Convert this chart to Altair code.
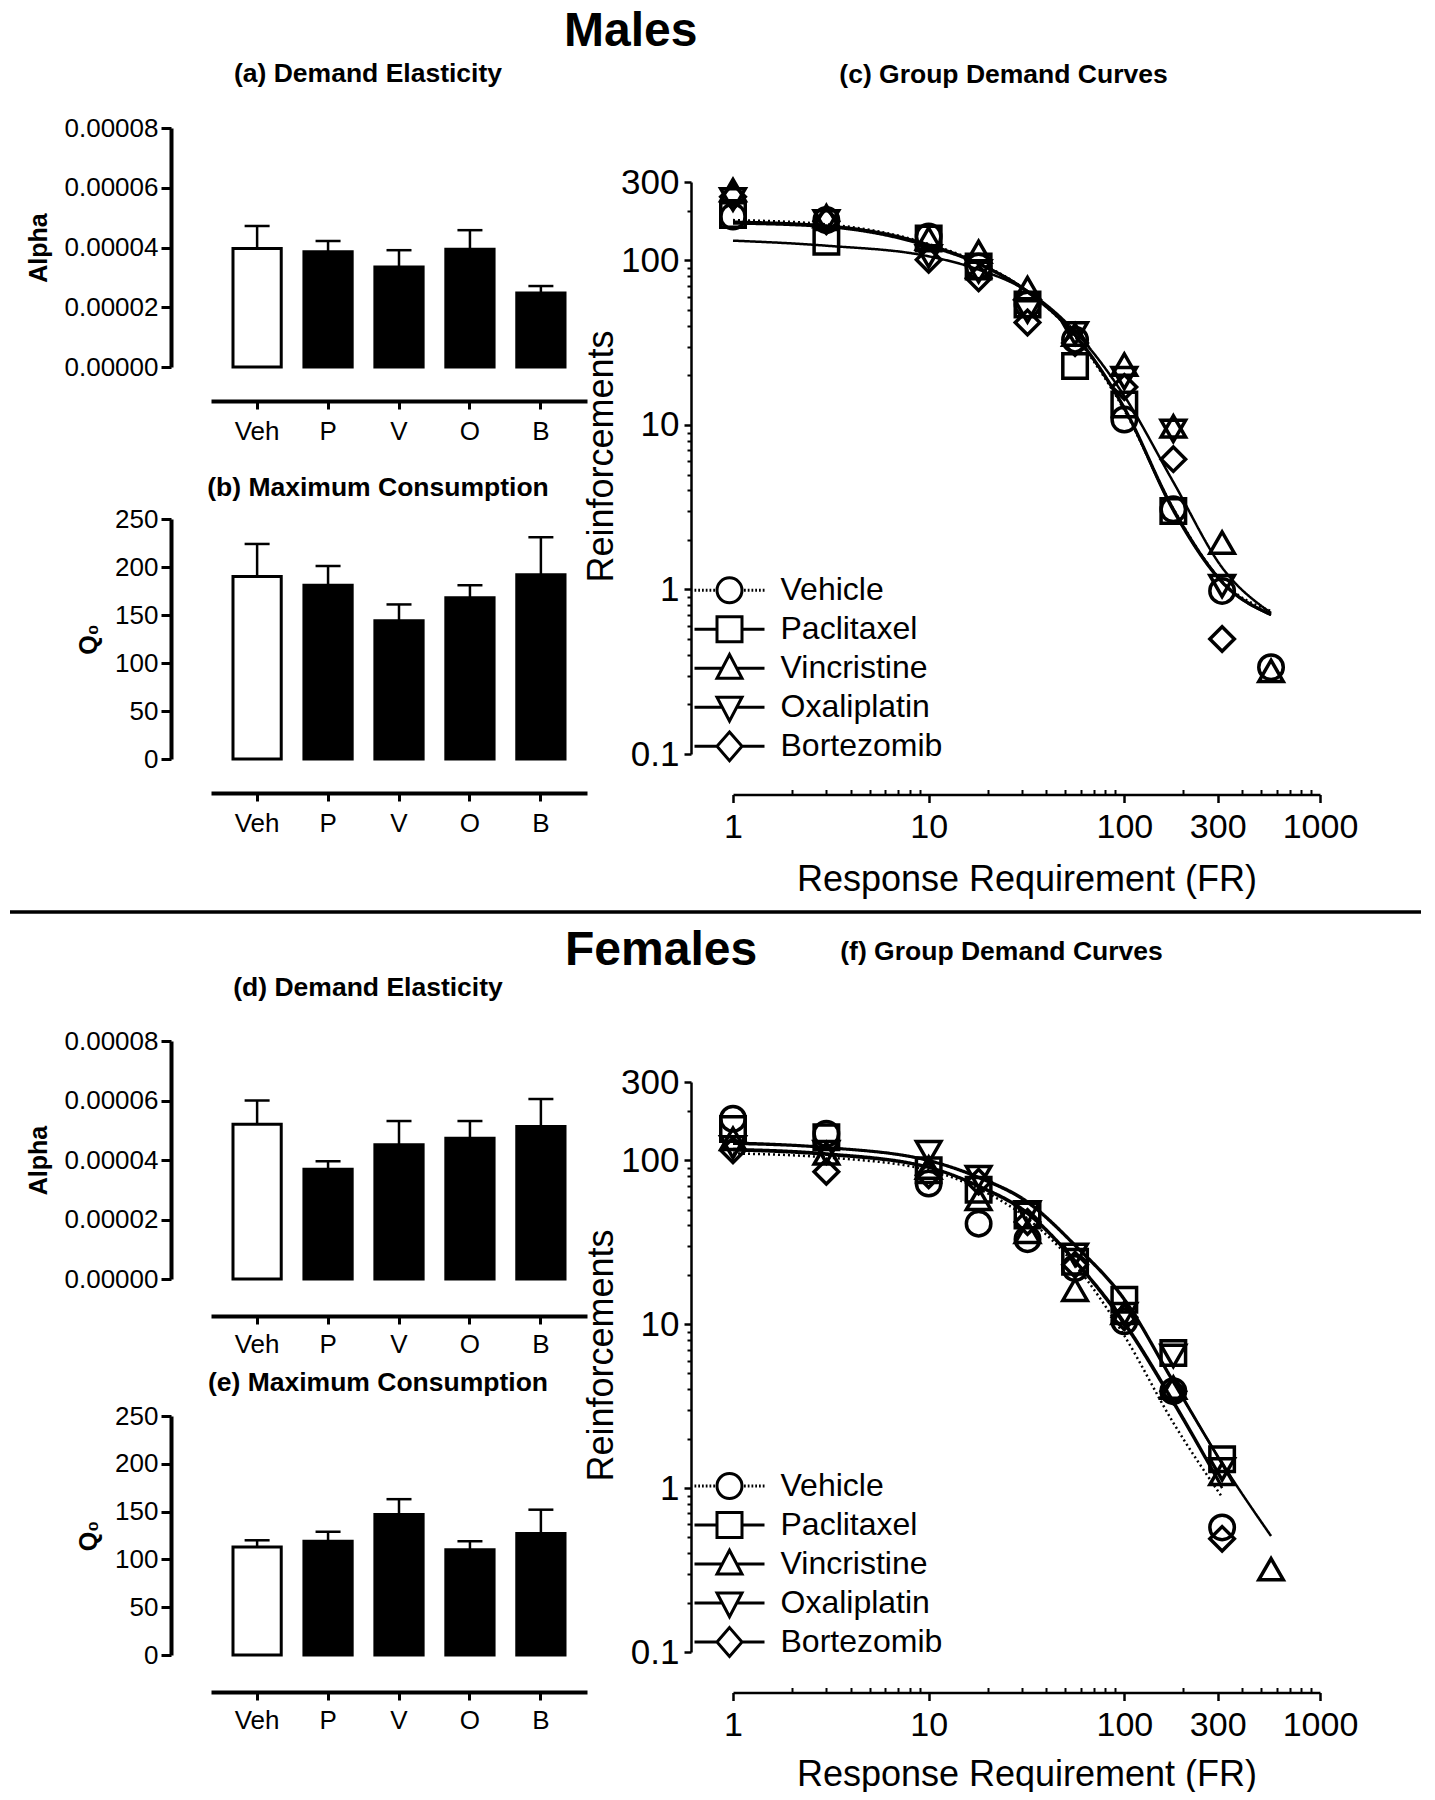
import altair as alt
import pandas as pd

FONT = "Liberation Sans"

# ---------------- bar panels ----------------
groups = ["Veh", "P", "V", "O", "B"]

m_alpha = [0.0000397, 0.0000386, 0.0000335, 0.0000394, 0.0000248]
m_alpha_sem = [0.0000075, 0.0000036, 0.0000056, 0.0000064, 0.0000023]
m_q0 = [190, 181, 144, 168, 192]
m_q0_sem = [34, 20, 17, 13, 39]

f_alpha = [0.0000520, 0.0000369, 0.0000451, 0.0000473, 0.0000513]
f_alpha_sem = [0.0000080, 0.0000027, 0.0000080, 0.0000058, 0.0000092]
f_q0 = [113, 119, 147, 110, 127]
f_q0_sem = [7, 10, 16, 9, 25]

alpha_ticks = [0, 0.00002, 0.00004, 0.00006, 0.00008]
q0_ticks = [0, 50, 100, 150, 200, 250]

# ---------------- demand curves ----------------
drugs = ["Vehicle", "Paclitaxel", "Vincristine", "Oxaliplatin", "Bortezomib"]
fr = [1, 3, 10, 18, 32, 56, 100, 178, 316, 562]

m_veh = [185, 176, 140, 92, 54, 33, 10.8, 3.07, 0.98, 0.337]
m_pac = [189, 130, 136, 92, 54, 22.8, 13.3, 3.0, None, None]
m_vin = [268, 186, 136, 113, 68, 35.4, 23.3, 9.8, 1.93, 0.32]
m_oxa = [235, 173, 106, 86, 49, 36, 19.3, 9.2, 1.05, None]
m_bor = [244, 173, 101, 78, 42, 31.5, 17, 6.2, 0.50, None]

f_veh = [179, 145, 72, 41, 33, 22, 10.4, 3.9, 0.575, None]
f_pac = [155, 138, 87, 66, 46, 24, 14.1, 6.67, 1.50, None]
f_vin = [135, 110, 90, 58, 36.5, 16.2, 11.7, 4.1, 1.22, 0.32]
f_oxa = [120, 112, 112, 79, 48, 26.5, 11.5, 6.4, 1.3, None]
f_bor = [115, 85, 81, 74, 42, 23, 11, 3.9, 0.49, None]

m_veh_fit = [176, 166, 126, 97, 65, 34.5, 12.3, 3.1, 1.12, 0.74]
m_pac_fit = [168, 160, 122, 95, 64, 35, 12.6, 3.0, 1.1, 0.70]
m_vin_fit = [132, 123, 106, 88, 65, 37, 15, 4.5, 1.36, 0.72]
m_oxa_fit = [170, 162, 124, 96, 65, 35.5, 12.8, 3.1, 1.12, 0.71]
m_bor_fit = [172, 163, 125, 96, 65, 35, 12.5, 3.05, 1.11, 0.70]

f_veh_fit = [110, 104, 87, 67, 44, 23, 8.5, 2.5, 0.88, None]
f_pac_fit = [126, 119, 99, 78, 55, 30, 14, 4.4, 1.40, None]
f_vin_fit = [128, 120, 100, 79, 56, 30.5, 14.3, 4.5, 1.42, 0.51]
f_oxa_fit = [117, 110, 91, 70, 48, 24.5, 10.3, 3.4, 1.02, None]
f_bor_fit = [115, 108, 90, 69, 47, 24, 10, 3.3, 1.0, None]

x_major = [1, 10, 100, 300, 1000]
x_minor = [2, 3, 4, 5, 6, 7, 8, 9, 20, 30, 40, 50, 60, 70, 80, 90,
           200, 400, 500, 600, 700, 800, 900]
y_major = [0.1, 1, 10, 100, 300]
y_minor = [0.2, 0.3, 0.4, 0.5, 0.6, 0.7, 0.8, 0.9, 2, 3, 4, 5, 6, 7, 8, 9,
           20, 30, 40, 50, 60, 70, 80, 90, 200]

BAR_W = 376
DEM_W = 587
TFS = 26.5   # panel title font size
XOFF = 40.5  # x-axis offset of demand panels


def long_df(series):
    rows = []
    for name, vals in zip(drugs, series):
        for x, v in zip(fr, vals):
            if v is not None:
                rows.append({"fr": x, "val": v, "drug": name})
    return pd.DataFrame(rows)


def bar_panel(vals, sems, ticks, fmt, ytitle, title, tdx, toffset, height, xoff, xlabpad):
    df = pd.DataFrame({"group": groups, "value": vals, "sem": sems})
    df["upper"] = df["value"] + df["sem"]
    xenc = alt.X("group:N", sort=groups,
                 scale=alt.Scale(paddingInner=0.32, paddingOuter=0.31),
                 axis=alt.Axis(title=None, labelAngle=0, offset=xoff, domainWidth=4,
                               tickSize=8, tickWidth=3, labelFontSize=26,
                               labelPadding=xlabpad))
    yenc = alt.Y("value:Q", scale=alt.Scale(domain=[ticks[0], ticks[-1]], nice=False),
                 axis=alt.Axis(values=ticks, format=fmt, title=ytitle, offset=40,
                               domainWidth=4, tickSize=10, tickWidth=3, labelFontSize=26,
                               labelPadding=3, titleFontSize=25, titleFontWeight="bold",
                               titlePadding=13))
    base = alt.Chart(df)
    bars = base.mark_bar(stroke="black", strokeWidth=3).encode(
        x=xenc, y=yenc,
        fill=alt.condition(alt.datum.group == "Veh", alt.value("white"), alt.value("black")))
    err = base.mark_rule(strokeWidth=2.5, color="black").encode(
        x=alt.X("group:N", sort=groups), y="value:Q", y2="upper:Q")
    cap = base.mark_tick(size=25, thickness=2.5, color="black", opacity=1).encode(
        x=alt.X("group:N", sort=groups), y="upper:Q")
    return alt.layer(bars, err, cap).properties(
        width=BAR_W, height=height,
        title=alt.TitleParams(title, fontSize=TFS, fontWeight="bold", anchor="middle",
                              dx=tdx, offset=toffset))


dash_range = [[2, 3], [1, 0], [1, 0], [1, 0], [1, 0]]
shape_range = ["circle", "square", "triangle-up", "triangle-down", "diamond"]
dots = "".join("M%.2f,0H%.2f" % (a, a + 0.14) for a in [-2.8, -2.5, -2.2, -1.9, -1.6, -1.3])
dots += "".join("M%.2f,0H%.2f" % (a, a + 0.14) for a in [1.16, 1.46, 1.76, 2.06, 2.36, 2.66])
legend_paths = [
    dots + "M-1,0A1,1 0 1,0 1,0A1,1 0 1,0 -1,0",
    "M-2.8,0H-1M1,0H2.8M-1,-1H1V1H-1Z",
    "M-2.8,0H-0.58M0.58,0H2.8M0,-1.1L1,0.8H-1Z",
    "M-2.8,0H-0.58M0.58,0H2.8M0,1.1L1,-0.8H-1Z",
    "M-2.8,0H-1M1,0H2.8M0,-1.15L1,0L0,1.15L-1,0Z",
]


def demand_panel(pts, fits, height, xtitle_pad, leg_y):
    pdf = long_df(pts)
    fdf = long_df(fits)
    xs = alt.Scale(type="log", domain=[1, 1000], nice=False)
    ys = alt.Scale(type="log", domain=[0.1, 300], nice=False)
    lines = alt.Chart(fdf).mark_line(color="black", strokeWidth=2.5, interpolate="monotone").encode(
        x=alt.X("fr:Q", scale=xs,
                axis=alt.Axis(values=x_major, format="~g", title="Response Requirement  (FR)",
                              offset=XOFF, domainWidth=2.5, tickSize=8, tickWidth=2.5,
                              labelFontSize=34, labelPadding=7.5, titleFontSize=36,
                              titleFontWeight="normal", titlePadding=xtitle_pad,
                              labelFlush=False)),
        y=alt.Y("val:Q", scale=ys,
                axis=alt.Axis(values=y_major, format="~g", title="Reinforcements",
                              offset=42, domainWidth=2.5, tickSize=7, tickWidth=2.5,
                              labelFontSize=35, labelPadding=5, titleFontSize=36,
                              titleFontWeight="normal", titlePadding=0,
                              titleY=height / 2 - 12, labelFlush=False)),
        strokeDash=alt.StrokeDash("drug:N", scale=alt.Scale(domain=drugs, range=dash_range),
                                  legend=None),
        detail="drug:N",
    )
    points = alt.Chart(pdf).mark_point(filled=False, color="black", strokeWidth=3.5,
                                       size=600, opacity=1).encode(
        x=alt.X("fr:Q", scale=xs,
                axis=alt.Axis(orient="top", values=x_minor, labels=False, title=None,
                              domain=False, tickSize=5, tickWidth=2, offset=-(height + XOFF))),
        y=alt.Y("val:Q", scale=ys,
                axis=alt.Axis(orient="left", values=y_minor, labels=False, title=None,
                              domain=False, tickSize=4, tickWidth=2, offset=42)),
        shape=alt.Shape("drug:N", scale=alt.Scale(domain=drugs, range=shape_range), legend=None),
    )
    leg = alt.Chart(pdf).transform_filter("datum.fr < 0").mark_point(
        filled=False, color="black", strokeWidth=3, size=625, opacity=1).encode(
        x=alt.X("fr:Q", scale=xs, axis=None),
        y=alt.Y("val:Q", scale=ys, axis=None),
        shape=alt.Shape("drug:N", scale=alt.Scale(domain=drugs, range=legend_paths),
                        legend=alt.Legend(title=None, orient="none", legendX=-19.5, legendY=leg_y,
                                          labelFontSize=32, labelOffset=35, symbolSize=625,
                                          symbolStrokeWidth=3, symbolStrokeColor="black",
                                          symbolFillColor="transparent", rowPadding=-3,
                                          gridAlign="all", labelLimit=400,
                                          padding=0, labelFont=FONT, labelColor="black")),
    )
    return alt.layer(lines, points, leg).resolve_scale(shape="independent").resolve_axis(
        x="independent", y="independent").properties(width=DEM_W, height=height)


def title_spacer(title, h, toffset, tdx):
    return alt.Chart(pd.DataFrame({"a": [0]})).mark_point(size=0, opacity=0).encode(
        x=alt.value(0), y=alt.value(0)).properties(
        width=DEM_W, height=h,
        title=alt.TitleParams(title, fontSize=TFS, fontWeight="bold", anchor="middle",
                              dx=tdx, offset=toffset))


alpha_m = bar_panel(m_alpha, m_alpha_sem, alpha_ticks, ".5f", "Alpha",
                    "(a) Demand Elasticity", -31, 27.5, 239, 34, 9)
q0_m = bar_panel(m_q0, m_q0_sem, q0_ticks, "d", "Q\u2080",
                 "(b) Maximum Consumption", -21, 5, 240, 34, 9)
alpha_f = bar_panel(f_alpha, f_alpha_sem, alpha_ticks, ".5f", "Alpha",
                    "(d) Demand Elasticity", -31, 27, 238, 37, 7)
q0_f = bar_panel(f_q0, f_q0_sem, q0_ticks, "d", "Q\u2080",
                 "(e) Maximum Consumption", -21, 6.2, 239, 37, 7)

dem_m = demand_panel([m_veh, m_pac, m_vin, m_oxa, m_bor],
                     [m_veh_fit, m_pac_fit, m_vin_fit, m_oxa_fit, m_bor_fit], 572, 18.5, 392.3)
dem_f = demand_panel([f_veh, f_pac, f_vin, f_oxa, f_bor],
                     [f_veh_fit, f_pac_fit, f_vin_fit, f_oxa_fit, f_bor_fit], 570, 15, 388)

left_m = alt.vconcat(alpha_m, q0_m, spacing=30)
left_f = alt.vconcat(alpha_f, q0_f, spacing=13)
right_m = alt.vconcat(title_spacer("(c) Group Demand Curves", 37, 40, -23), dem_m, spacing=0)
right_f = alt.vconcat(title_spacer("(f) Group Demand Curves", 23.5, 76, -25), dem_f, spacing=0)

row_m = alt.hconcat(left_m, right_m, spacing=-4).properties(
    title=alt.TitleParams("Males", fontSize=48, fontWeight="bold", anchor="start", dx=538,
                          offset=4.8))
row_f = alt.hconcat(left_f, right_f, spacing=-4).properties(
    title=alt.TitleParams("Females", fontSize=48, fontWeight="bold", anchor="start", dx=539,
                          offset=-36))

sep = alt.Chart(pd.DataFrame({"a": [0]})).mark_rule(color="black", strokeWidth=3.5).encode(
    x=alt.value(-201), x2=alt.value(1210), y=alt.value(0)).properties(width=10, height=1)

chart = alt.vconcat(row_m, sep, row_f, spacing=12).properties(padding=0).configure_view(
    stroke=None).configure_axis(
    labelFont=FONT, titleFont=FONT, labelColor="black", titleColor="black",
    domainColor="black", tickColor="black", grid=False).configure_title(
    font=FONT, color="black").configure_legend(labelFont=FONT)

chart.save("out.html", embed_options={"renderer": "svg", "actions": False})
